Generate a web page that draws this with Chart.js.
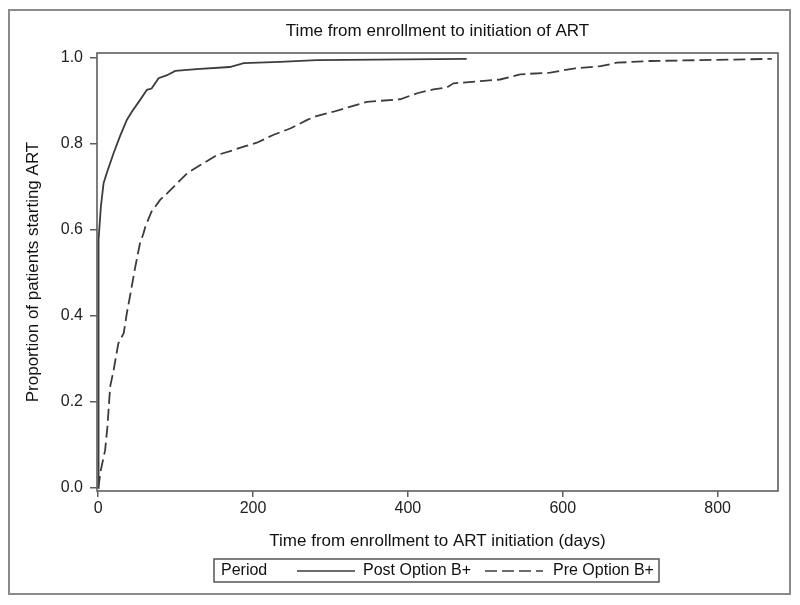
<!DOCTYPE html>
<html>
<head>
<meta charset="utf-8">
<script src="https://cdn.jsdelivr.net/npm/chart.js@4/dist/chart.umd.min.js"></script>
<style>
  html, body { margin: 0; padding: 0; background: #fff; }
  #wrap { position: relative; width: 800px; height: 605px; }
</style>
</head>
<body>
<div id="wrap"><canvas id="c" width="800" height="605"></canvas></div>
<script>
// ---- Data ----
const chartTitle = "Time from enrollment to initiation of ART";
const xTitle = "Time from enrollment to ART initiation (days)";
const yTitle = "Proportion of patients starting ART";
const legendTitle = "Period";
const seriesNames = ["Post Option B+", "Pre Option B+"];

const xTickValues = [0, 200, 400, 600, 800];
const yTickValues = [0, 0.2, 0.4, 0.6, 0.8, 1.0];

const postDays = [0, 0.5, 3.5, 7, 11, 20, 28, 37, 43.5, 54, 63, 69, 78, 89, 99.5, 127, 170, 188, 235, 282, 476];
const postProp = [0, 0.577, 0.654, 0.709, 0.732, 0.779, 0.817, 0.856, 0.875, 0.902, 0.926, 0.929, 0.953, 0.960, 0.970, 0.974, 0.979, 0.988, 0.991, 0.995, 0.998];

const preDays = [0, 0.4, 3.5, 9, 12, 15.5, 20, 26, 33, 37, 41, 48, 54, 58.5, 61, 69, 73.6, 80, 89, 106, 115, 132, 153, 175, 188, 205, 226, 248, 270, 282, 304, 326, 347, 390, 412, 433, 450, 459, 498, 519, 545, 584, 616, 649, 670, 713, 778, 870];
const preProp = [0, 0.003, 0.042, 0.088, 0.143, 0.236, 0.274, 0.336, 0.360, 0.406, 0.445, 0.515, 0.569, 0.592, 0.608, 0.643, 0.654, 0.670, 0.685, 0.716, 0.732, 0.751, 0.774, 0.786, 0.794, 0.803, 0.821, 0.836, 0.856, 0.865, 0.875, 0.887, 0.898, 0.904, 0.918, 0.927, 0.931, 0.941, 0.947, 0.950, 0.962, 0.966, 0.976, 0.981, 0.989, 0.993, 0.995, 0.998];

// ---- Styling ----
const FONT = "'Liberation Sans', Arial, sans-serif";
const LINE_COLOR = '#3c3c3c';
const AXIS_COLOR = '#5e5e5e';
const TEXT_COLOR = '#111111';
const DASH = [12, 5];

const toXY = (xs, ys) => xs.map((x, i) => ({ x: x, y: ys[i] }));

const framePlugin = {
  id: 'frame',
  beforeDraw(chart) {
    const ctx = chart.ctx;
    ctx.save();
    ctx.fillStyle = '#ffffff';
    ctx.fillRect(0, 0, chart.width, chart.height);
    ctx.strokeStyle = '#8a8a8a';
    ctx.lineWidth = 2;
    ctx.strokeRect(9, 10, 781, 584);
    ctx.restore();
  },
  afterDraw(chart) {
    const ctx = chart.ctx;
    const a = chart.chartArea;
    ctx.save();
    // plot frame
    ctx.strokeStyle = AXIS_COLOR;
    ctx.lineWidth = 1.6;
    ctx.strokeRect(a.left, a.top, a.right - a.left, a.bottom - a.top);
    // title centered over plot area
    ctx.fillStyle = TEXT_COLOR;
    ctx.font = '17px ' + FONT;
    ctx.textAlign = 'center';
    ctx.textBaseline = 'middle';
    ctx.fillText(chartTitle, (a.left + a.right) / 2, 31);
    // legend
    const ly = 571;
    ctx.strokeStyle = '#555555';
    ctx.lineWidth = 1.5;
    ctx.strokeRect(214, 559, 445, 23);
    ctx.font = '16px ' + FONT;
    ctx.textAlign = 'left';
    ctx.fillStyle = TEXT_COLOR;
    ctx.fillText(legendTitle, 221, ly);
    const ds = chart.data.datasets;
    const samples = [[297, 355, 363], [485, 543, 553]];
    ds.forEach((d, i) => {
      const [x0, x1, tx] = samples[i];
      ctx.beginPath();
      ctx.strokeStyle = d.borderColor;
      ctx.lineWidth = 1.3;
      ctx.setLineDash(d.borderDash || []);
      ctx.moveTo(x0, ly);
      ctx.lineTo(x1, ly);
      ctx.stroke();
      ctx.setLineDash([]);
      ctx.fillStyle = TEXT_COLOR;
      ctx.fillText(d.label, tx, ly);
    });
    ctx.restore();
  }
};

new Chart(document.getElementById('c'), {
  type: 'line',
  data: {
    datasets: [
      {
        label: seriesNames[0],
        data: toXY(postDays, postProp),
        borderColor: LINE_COLOR,
        borderWidth: 1.8,
        pointRadius: 0,
        tension: 0,
        fill: false
      },
      {
        label: seriesNames[1],
        data: toXY(preDays, preProp),
        borderColor: LINE_COLOR,
        borderWidth: 1.8,
        borderDash: DASH,
        pointRadius: 0,
        tension: 0,
        fill: false
      }
    ]
  },
  options: {
    responsive: false,
    animation: false,
    layout: { padding: { left: 0, right: 22, top: 53, bottom: 52 } },
    plugins: {
      legend: { display: false },
      title: { display: false },
      tooltip: { enabled: false }
    },
    scales: {
      x: {
        type: 'linear',
        min: -1.5,
        max: 878,
        afterBuildTicks: s => { s.ticks = xTickValues.map(v => ({ value: v })); },
        afterFit: s => { s.height = 62; },
        ticks: {
          color: '#222222',
          font: { family: FONT, size: 16 },
          padding: 2,
          maxRotation: 0,
          autoSkip: false,
          callback: v => String(v)
        },
        grid: { display: true, drawOnChartArea: false, drawTicks: true, tickLength: 6, color: AXIS_COLOR, lineWidth: 1.5 },
        border: { display: false },
        title: {
          display: true,
          text: xTitle,
          color: TEXT_COLOR,
          font: { family: FONT, size: 17 },
          padding: { top: 0, bottom: 1 }
        }
      },
      y: {
        type: 'linear',
        min: -0.007,
        max: 1.0116,
        afterBuildTicks: s => { s.ticks = yTickValues.map(v => ({ value: v })); },
        afterFit: s => { s.width = 97; },
        ticks: {
          color: '#222222',
          font: { family: FONT, size: 16 },
          padding: 7,
          autoSkip: false,
          callback: v => Number(v).toFixed(1)
        },
        grid: { display: true, drawOnChartArea: false, drawTicks: true, tickLength: 7, color: AXIS_COLOR, lineWidth: 1.5 },
        border: { display: false },
        title: {
          display: true,
          text: yTitle,
          color: TEXT_COLOR,
          font: { family: FONT, size: 17 },
          padding: { top: 23, bottom: 0 }
        }
      }
    }
  },
  plugins: [framePlugin]
});
</script>
</body>
</html>
